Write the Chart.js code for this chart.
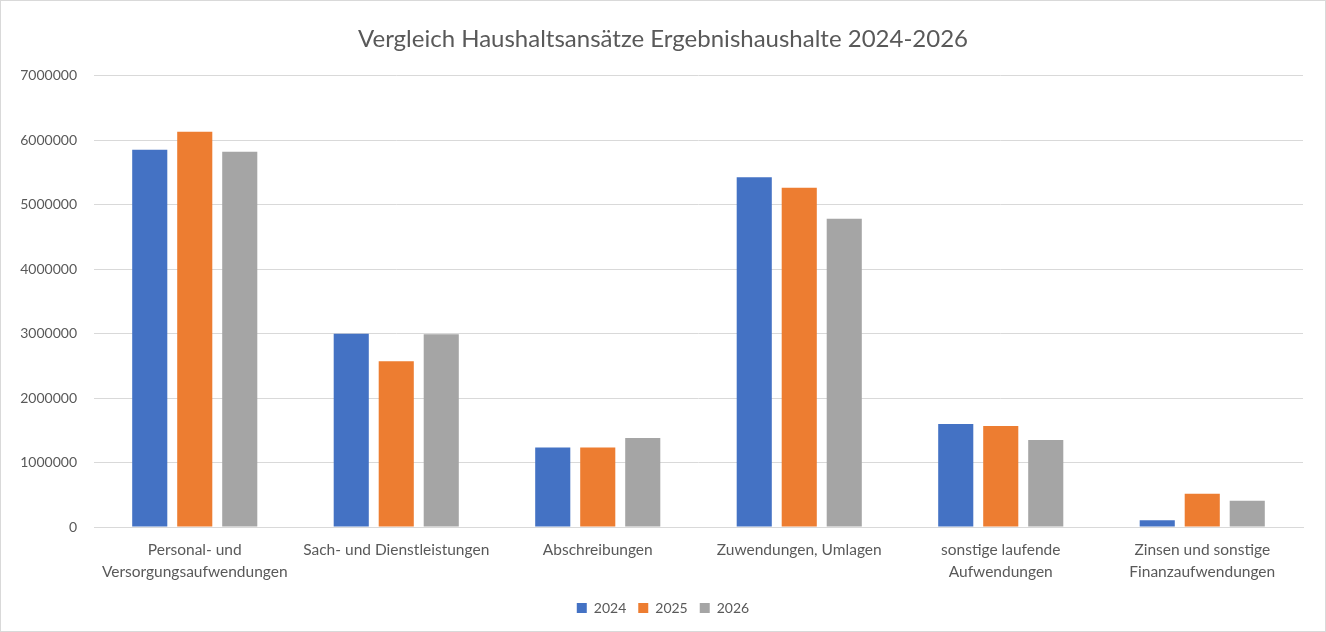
<!DOCTYPE html>
<html lang="de">
<head>
<meta charset="utf-8">
<title>Vergleich Haushaltsansätze</title>
<script src="https://cdn.jsdelivr.net/npm/chart.js@4.4.1/dist/chart.umd.min.js"></script>
<style>
    html, body { margin: 0; padding: 0; background: #fff; }
    .chart-box {
        width: 1324px;
        height: 630px;
        border: 1px solid #d9d9d9;
        position: relative;
    }
</style>
</head>
<body>
<div class="chart-box">
    <canvas id="haushaltChart" width="1324" height="630"></canvas>
</div>
<script>
// Kategorien und Werte
const kategorien = [
    ['Personal- und', 'Versorgungsaufwendungen'],
    'Sach- und Dienstleistungen',
    'Abschreibungen',
    'Zuwendungen, Umlagen',
    ['sonstige laufende', 'Aufwendungen'],
    ['Zinsen und sonstige', 'Finanzaufwendungen']
];
const jahre = ['2024', '2025', '2026'];
const werte2024 = [5853000, 3000000, 1232000, 5428000, 1598000, 103000];
const werte2025 = [6132000, 2573000, 1232000, 5263000, 1567000, 516000];
const werte2026 = [5822000, 2990000, 1382000, 4784000, 1351000, 407000];
const yTicks = [0, 1000000, 2000000, 3000000, 4000000, 5000000, 6000000, 7000000];

const farben = ['#4472C4', '#ED7D31', '#A5A5A5'];
const schrift = "Lato, 'Open Sans', sans-serif";
const textFarbe = '#595959';

const ctx = document.getElementById('haushaltChart').getContext('2d');
new Chart(ctx, {
    type: 'bar',
    data: {
        labels: kategorien,
        datasets: [werte2024, werte2025, werte2026].map((werte, i) => ({
            label: jahre[i],
            data: werte,
            backgroundColor: farben[i],
            borderWidth: 0,
            categoryPercentage: 0.67,
            barPercentage: 0.78
        }))
    },
    options: {
        responsive: false,
        animation: false,
        layout: { padding: { left: 0, right: 0, top: 0, bottom: 6 } },
        plugins: {
            title: {
                display: true,
                text: 'Vergleich Haushaltsansätze Ergebnishaushalte 2024-2026',
                color: textFarbe,
                font: { family: schrift, size: 24, weight: 'normal' },
                padding: { top: 24, bottom: 22 }
            },
            legend: {
                position: 'bottom',
                labels: {
                    color: textFarbe,
                    boxWidth: 10,
                    boxHeight: 10,
                    padding: 12,
                    font: { family: schrift, size: 14 }
                }
            },
            tooltip: { enabled: false }
        },
        scales: {
            x: {
                grid: { display: false, drawTicks: false },
                border: { display: true, color: '#d9d9d9', width: 1 },
                ticks: {
                    color: textFarbe,
                    padding: 12,
                    maxRotation: 0,
                    autoSkip: false,
                    font: { family: schrift, size: 15.5, lineHeight: 1.42 }
                },
                afterFit: s => { s.height = 62; }
            },
            y: {
                min: 0,
                max: yTicks[yTicks.length - 1],
                grid: { color: '#d9d9d9', drawTicks: false },
                border: { display: false },
                afterBuildTicks: s => { s.ticks = yTicks.map(v => ({ value: v })); },
                ticks: {
                    color: textFarbe,
                    padding: 17,
                    font: { family: schrift, size: 14 },
                    callback: v => String(v)
                },
                afterFit: s => { s.width = 93; }
            },
            // leere rechte Achse als Rand, damit Titel und Legende mittig bleiben
            rechts: {
                position: 'right',
                display: true,
                grid: { display: false, drawTicks: false },
                border: { display: false },
                ticks: { display: false },
                afterFit: s => { s.width = 22; }
            }
        }
    }
});
</script>
</body>
</html>
